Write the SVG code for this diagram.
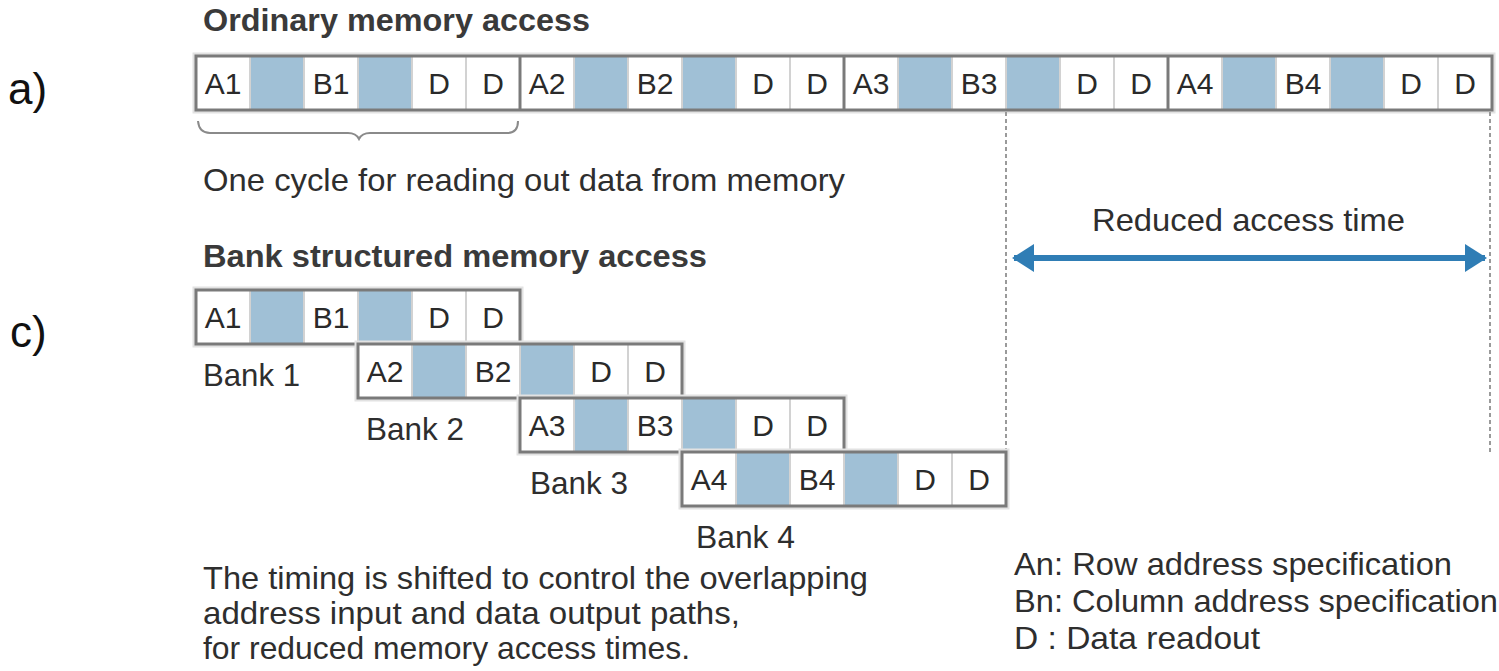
<svg xmlns="http://www.w3.org/2000/svg" width="1499" height="671" viewBox="0 0 1499 671">
<style>
text{font-family:"Liberation Sans",Arial,sans-serif;fill:#2e2e2e}
.t{font-size:32px}
.b{font-size:32px;font-weight:bold;fill:#3a3a3a}
.lbl{font-size:44px;fill:#111}
.c{font-size:30px;text-anchor:middle;fill:#2a2a2a}
.halo{fill:none;stroke:#e2e2e2;stroke-width:7}
.box{fill:none;stroke:#7a7a7a;stroke-width:3}
.bg{fill:#ffffff}
.blue{fill:#a0c0d6}
.sep{stroke:#d2d2d2;stroke-width:2}
.dash{stroke:#9a9a9a;stroke-width:2;stroke-dasharray:4 3;fill:none}
</style>
<defs>
<marker id="ah" viewBox="0 0 22 28" refX="20" refY="14" markerWidth="22" markerHeight="28" markerUnits="userSpaceOnUse" orient="auto-start-reverse">
<path d="M0,0 L22,14 L0,28 Z" fill="#2f7db5"/>
</marker>
<g id="cyc">
<rect class="bg" x="0" y="0" width="324" height="54"/>
<rect class="blue" x="54" y="0" width="54" height="54"/>
<rect class="blue" x="162" y="0" width="54" height="54"/>
<line class="sep" x1="54" y1="0" x2="54" y2="54"/>
<line class="sep" x1="108" y1="0" x2="108" y2="54"/>
<line class="sep" x1="162" y1="0" x2="162" y2="54"/>
<line class="sep" x1="216" y1="0" x2="216" y2="54"/>
<line class="sep" x1="270" y1="0" x2="270" y2="54"/>
</g>
</defs>
<rect width="1499" height="671" fill="#ffffff"/>

<text class="b" x="203" y="31" textLength="387" lengthAdjust="spacingAndGlyphs">Ordinary memory access</text>
<text class="lbl" x="8" y="104">a)</text>
<text class="lbl" x="10" y="347">c)</text>

<g id="ordinary-row">
<rect class="halo" x="196" y="56" width="1296" height="54"/>
<use href="#cyc" x="196" y="56"/>
<use href="#cyc" x="520" y="56"/>
<use href="#cyc" x="844" y="56"/>
<use href="#cyc" x="1168" y="56"/>
<line stroke="#7a7a7a" stroke-width="3" x1="520" y1="56" x2="520" y2="110"/>
<line stroke="#7a7a7a" stroke-width="3" x1="844" y1="56" x2="844" y2="110"/>
<line stroke="#7a7a7a" stroke-width="3" x1="1168" y1="56" x2="1168" y2="110"/>
<rect class="box" x="196" y="56" width="1296" height="54"/>
<g id="cycle-1"><text class="c" x="223" y="94">A1</text><text class="c" x="331" y="94">B1</text><text class="c" x="439" y="94">D</text><text class="c" x="493" y="94">D</text></g>
<g id="cycle-2"><text class="c" x="547" y="94">A2</text><text class="c" x="655" y="94">B2</text><text class="c" x="763" y="94">D</text><text class="c" x="817" y="94">D</text></g>
<g id="cycle-3"><text class="c" x="871" y="94">A3</text><text class="c" x="979" y="94">B3</text><text class="c" x="1087" y="94">D</text><text class="c" x="1141" y="94">D</text></g>
<g id="cycle-4"><text class="c" x="1195" y="94">A4</text><text class="c" x="1303" y="94">B4</text><text class="c" x="1411" y="94">D</text><text class="c" x="1465" y="94">D</text></g>
</g>

<text class="t" x="203" y="191" textLength="642" lengthAdjust="spacingAndGlyphs">One cycle for reading out data from memory</text>
<text class="b" x="203" y="267" textLength="504" lengthAdjust="spacingAndGlyphs">Bank structured memory access</text>
<text class="t" x="1092" y="231" textLength="313" lengthAdjust="spacingAndGlyphs">Reduced access time</text>

<g id="connectors">
<path d="M198,121 Q199,133 210,133 L348,133 Q356,133 359,139 Q362,133 370,133 L507,133 Q518,133 518,121" fill="none" stroke="#8a8a8a" stroke-width="2"/>
<line class="dash" x1="1006" y1="112" x2="1006" y2="452"/>
<line class="dash" x1="1490" y1="112" x2="1490" y2="452"/>
<line x1="1014" y1="258" x2="1485" y2="258" stroke="#2f7db5" stroke-width="6" marker-start="url(#ah)" marker-end="url(#ah)"/>
</g>

<g id="bank-1">
<rect class="halo" x="196" y="290" width="324" height="54"/>
<use href="#cyc" x="196" y="290"/>
<rect class="box" x="196" y="290" width="324" height="54"/>
<text class="c" x="223" y="328">A1</text><text class="c" x="331" y="328">B1</text><text class="c" x="439" y="328">D</text><text class="c" x="493" y="328">D</text>
<text class="t" x="203" y="386" textLength="97" lengthAdjust="spacingAndGlyphs">Bank 1</text>
</g>
<g id="bank-2">
<rect class="halo" x="358" y="344" width="324" height="54"/>
<use href="#cyc" x="358" y="344"/>
<rect class="box" x="358" y="344" width="324" height="54"/>
<text class="c" x="385" y="382">A2</text><text class="c" x="493" y="382">B2</text><text class="c" x="601" y="382">D</text><text class="c" x="655" y="382">D</text>
<text class="t" x="366" y="440" textLength="98" lengthAdjust="spacingAndGlyphs">Bank 2</text>
</g>
<g id="bank-3">
<rect class="halo" x="520" y="398" width="324" height="54"/>
<use href="#cyc" x="520" y="398"/>
<rect class="box" x="520" y="398" width="324" height="54"/>
<text class="c" x="547" y="436">A3</text><text class="c" x="655" y="436">B3</text><text class="c" x="763" y="436">D</text><text class="c" x="817" y="436">D</text>
<text class="t" x="530" y="494" textLength="98" lengthAdjust="spacingAndGlyphs">Bank 3</text>
</g>
<g id="bank-4">
<rect class="halo" x="682" y="452" width="324" height="54"/>
<use href="#cyc" x="682" y="452"/>
<rect class="box" x="682" y="452" width="324" height="54"/>
<text class="c" x="709" y="490">A4</text><text class="c" x="817" y="490">B4</text><text class="c" x="925" y="490">D</text><text class="c" x="979" y="490">D</text>
<text class="t" x="696" y="548" textLength="99" lengthAdjust="spacingAndGlyphs">Bank 4</text>
</g>

<g id="note">
<text class="t" x="203" y="589" textLength="665" lengthAdjust="spacingAndGlyphs">The timing is shifted to control the overlapping</text>
<text class="t" x="203" y="624" textLength="537" lengthAdjust="spacingAndGlyphs">address input and data output paths,</text>
<text class="t" x="203" y="659" textLength="487" lengthAdjust="spacingAndGlyphs">for reduced memory access times.</text>
</g>
<g id="legend">
<text class="t" x="1014" y="575" textLength="438" lengthAdjust="spacingAndGlyphs">An: Row address specification</text>
<text class="t" x="1014" y="612" textLength="484" lengthAdjust="spacingAndGlyphs">Bn: Column address specification</text>
<text class="t" x="1014" y="649" textLength="246" lengthAdjust="spacingAndGlyphs">D : Data readout</text>
</g>
</svg>
